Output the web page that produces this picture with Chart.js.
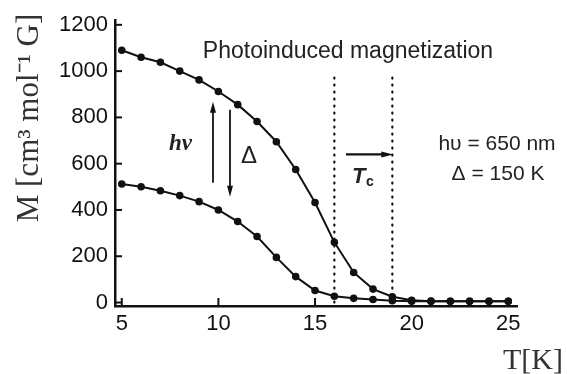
<!DOCTYPE html>
<html>
<head>
<meta charset="utf-8">
<script src="https://cdn.jsdelivr.net/npm/chart.js@4"></script>
<style>
html, body { margin: 0; padding: 0; background: #fff; }
</style>
</head>
<body>
<canvas id="c" width="567" height="374"></canvas>
<script>
// 温度 (K)
const temps = [5, 6, 7, 8, 9, 10, 11, 12, 13, 14, 15, 16, 17, 18, 19, 20, 21, 22, 23, 24, 25];
// 光誘起後の磁化 (上の曲線)
const upperM = [1090, 1060, 1038, 1000, 962, 912, 855, 782, 695, 575, 432, 260, 130, 58, 25, 10, 6, 5, 5, 5, 5];
// 光照射前の磁化 (下の曲線)
const lowerM = [512, 500, 483, 462, 436, 400, 350, 285, 195, 112, 52, 27, 18, 13, 8, 6, 5, 5, 5, 5, 5];
// Tc の点線の位置
const tcLines = [16, 19];
const tcTop = 975;
const xTicks = [5, 10, 15, 20, 25];
const yTicks = [0, 200, 400, 600, 800, 1000, 1200];

const ink = '#111';
const sans = "'Liberation Sans', Arial, sans-serif";
const serif = "'Liberation Serif', 'Times New Roman', serif";

function curve(vals) {
    return {
        data: temps.map((t, i) => ({ x: t, y: vals[i] })),
        borderColor: ink,
        backgroundColor: ink,
        borderWidth: 2,
        pointRadius: 2.8,
        pointStyle: 'circle',
        tension: 0
    };
}

function dotted(t) {
    return {
        data: [{ x: t, y: 0 }, { x: t, y: tcTop }],
        borderColor: ink,
        borderWidth: 2.2,
        borderDash: [1, 6],
        borderCapStyle: 'round',
        pointRadius: 0
    };
}

function arrow(ctx, x1, y1, x2, y2, head) {
    const a = Math.atan2(y2 - y1, x2 - x1);
    ctx.beginPath();
    ctx.moveTo(x1, y1);
    ctx.lineTo(x2 - Math.cos(a) * head * 0.8, y2 - Math.sin(a) * head * 0.8);
    ctx.stroke();
    ctx.beginPath();
    ctx.moveTo(x2, y2);
    ctx.lineTo(x2 - Math.cos(a) * head - Math.sin(a) * 3, y2 - Math.sin(a) * head + Math.cos(a) * 3);
    ctx.lineTo(x2 - Math.cos(a) * head + Math.sin(a) * 3, y2 - Math.sin(a) * head - Math.cos(a) * 3);
    ctx.closePath();
    ctx.fill();
}

// 目盛り・注釈を描く
const decor = {
    id: 'decor',
    afterDraw(chart) {
        const ctx = chart.ctx;
        const xs = chart.scales.x, ys = chart.scales.y;
        const area = chart.chartArea;
        ctx.save();
        ctx.strokeStyle = ink;
        ctx.fillStyle = ink;
        ctx.lineWidth = 2;
        // 内向きの目盛り
        yTicks.forEach(v => {
            const y = ys.getPixelForValue(v);
            ctx.beginPath(); ctx.moveTo(area.left, y); ctx.lineTo(area.left + 7, y); ctx.stroke();
        });
        xTicks.forEach(v => {
            const x = xs.getPixelForValue(v);
            ctx.beginPath(); ctx.moveTo(x, area.bottom); ctx.lineTo(x, area.bottom - 8); ctx.stroke();
        });

        // hν と Δ の矢印
        ctx.lineWidth = 1.8;
        arrow(ctx, xs.getPixelForValue(9.72), ys.getPixelForValue(518), xs.getPixelForValue(9.72), ys.getPixelForValue(868), 11);
        arrow(ctx, xs.getPixelForValue(10.6), ys.getPixelForValue(833), xs.getPixelForValue(10.6), ys.getPixelForValue(457), 11);
        // Tc の矢印
        ctx.lineWidth = 2.4;
        arrow(ctx, xs.getPixelForValue(16.6), ys.getPixelForValue(640), xs.getPixelForValue(19.05), ys.getPixelForValue(640), 12);

        ctx.fillStyle = '#222';
        ctx.textBaseline = 'alphabetic';
        ctx.textAlign = 'center';
        ctx.font = '23px ' + sans;
        ctx.fillText('Photoinduced magnetization', 348, 58);

        ctx.font = '21px ' + sans;
        ctx.fillText('h\u03c5 = 650 nm', 497, 150);
        ctx.fillText('\u0394 = 150 K', 498, 180);
        ctx.font = '24px ' + sans;
        ctx.fillText('\u0394', 249, 163);

        ctx.font = 'bold italic 23px ' + serif;
        ctx.textAlign = 'right';
        ctx.fillText('h\u03bd', 192, 150);

        ctx.textAlign = 'left';
        ctx.font = 'bold italic 22px ' + sans;
        ctx.fillText('T', 352, 183);
        ctx.font = 'bold 14px ' + sans;
        ctx.fillText('c', 366, 186);

        // 軸タイトル
        ctx.fillStyle = '#333';
        ctx.font = '30px ' + serif;
        ctx.textAlign = 'right';
        ctx.fillText('T[K]', 563, 369);

        ctx.translate(38, 118);
        ctx.rotate(-Math.PI / 2);
        ctx.textAlign = 'center';
        ctx.font = '31px ' + serif;
        ctx.fillText('M [cm\u00b3 mol\u207b\u00b9 G]', 0, 0);
        ctx.restore();
    }
};

new Chart(document.getElementById('c').getContext('2d'), {
    type: 'line',
    data: {
        datasets: [curve(upperM), curve(lowerM), dotted(tcLines[0]), dotted(tcLines[1])]
    },
    options: {
        responsive: false,
        devicePixelRatio: 1,
        animation: false,
        layout: { padding: { top: 20, right: 50, left: 0, bottom: 0 } },
        plugins: { legend: { display: false }, tooltip: { enabled: false } },
        scales: {
            x: {
                type: 'linear',
                min: 4.65,
                max: 25.45,
                afterBuildTicks: s => { s.ticks = xTicks.map(v => ({ value: v })); },
                grid: { display: false, drawTicks: false },
                border: { display: true, color: ink, width: 2.5 },
                ticks: { color: '#111', font: { family: sans, size: 22 }, padding: 5, maxRotation: 0, callback: v => String(v) },
                afterFit: s => { s.height = 68; }
            },
            y: {
                min: -15,
                max: 1220,
                afterBuildTicks: s => { s.ticks = yTicks.map(v => ({ value: v })); },
                grid: { display: false, drawTicks: false },
                border: { display: true, color: ink, width: 2.5 },
                ticks: { color: '#111', font: { family: sans, size: 22 }, padding: 7, callback: v => String(v) },
                afterFit: s => { s.width = 115; }
            }
        }
    },
    plugins: [decor]
});
</script>
</body>
</html>
